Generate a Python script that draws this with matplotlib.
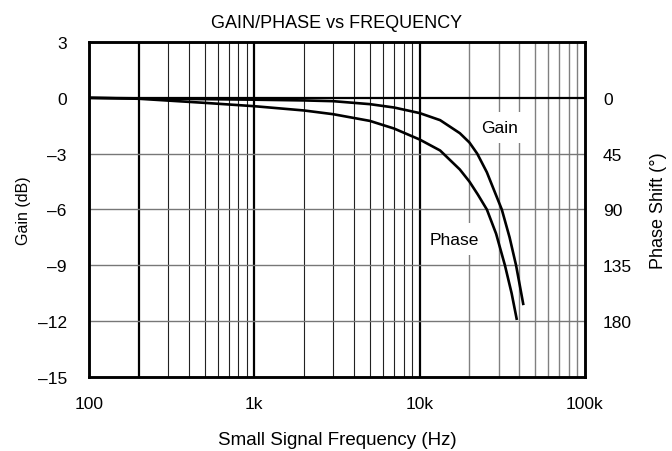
import numpy as np
import matplotlib
matplotlib.use("Agg")
import matplotlib.pyplot as plt

plt.rcParams['font.family'] = ['Liberation Sans', 'DejaVu Sans']
plt.rcParams['font.size'] = 12.5

# values
gain_freq = [100, 200, 500, 1e3, 2e3, 3e3, 5e3, 7e3, 10e3, 13.3e3, 17.5e3, 20e3,
             22.3e3, 25.5e3, 28e3, 31.4e3, 35e3, 38.3e3, 40e3, 42.3e3]
gain_db = [0.0, -0.03, -0.07, -0.1, -0.14, -0.18, -0.34, -0.52, -0.82, -1.2, -1.9, -2.4,
           -3.0, -4.0, -4.9, -6.0, -7.5, -9.0, -9.9, -11.07]

phase_freq = [100, 200, 500, 1e3, 2e3, 3e3, 5e3, 7e3, 10e3, 13.3e3, 17.5e3, 20e3,
              22.5e3, 25.5e3, 29e3, 32.8e3, 36e3, 38.6e3]
phase_deg = [0, 0.75, 4.05, 6.75, 10.2, 13.2, 18.6, 24.75, 33.6, 42.45, 57.75, 67.5,
             78, 90, 109.5, 135, 157.5, 178]

gain_ticks = [3, 0, -3, -6, -9, -12, -15]
phase_ticks = [0, 45, 90, 135, 180]
freq_ticks = [100, 1e3, 10e3, 100e3]
freq_labels = ['100', '1k', '10k', '100k']

fig = plt.figure(figsize=(6.72, 4.52), dpi=100)
ax = fig.add_axes([0.1324, 0.1637, 0.7381, 0.7412])
ax.set_xscale('log')
ax.set_xlim(100, 100e3)
ax.set_ylim(-15, 3)

# grid: heavy lines at 200, 1k, 10k
for dec in [100, 1e3, 10e3]:
    for m in range(2, 10):
        f = dec * m
        if f == 200:
            ax.axvline(f, color='black', lw=1.6, zorder=1)
        elif dec < 10e3:
            ax.axvline(f, color='#222222', lw=0.8, zorder=1)
        else:
            ax.axvline(f, color='#808080', lw=1.0, zorder=1)
for f in [1e3, 10e3]:
    ax.axvline(f, color='black', lw=1.6, zorder=1)
for g in [-3, -6, -9, -12]:
    ax.axhline(g, color='#777777', lw=1.0, zorder=1)
ax.axhline(0, color='black', lw=1.6, zorder=1)

ax.plot(gain_freq, gain_db, color='black', lw=1.9, zorder=3)

ax2 = ax.twinx()
ax2.set_ylim(225, -45)
ax2.plot(phase_freq, phase_deg, color='black', lw=1.9, zorder=3)
ax2.set_xlim(100, 100e3)

ax.set_xticks(freq_ticks)
ax.set_xticklabels(freq_labels)
ax.xaxis.set_minor_locator(matplotlib.ticker.NullLocator())
ax.set_yticks(gain_ticks)
ax.set_yticklabels([str(t).replace('-', '\u2013') for t in gain_ticks])
ax.tick_params(axis='x', length=0, pad=14)
ax.tick_params(axis='y', length=0, pad=16)
ax2.set_yticks(phase_ticks)
ax2.tick_params(axis='y', length=0, pad=13)

for a in (ax, ax2):
    for s in a.spines.values():
        s.set_linewidth(1.8)

ax.set_xlabel('Small Signal Frequency (Hz)', fontsize=13.5, labelpad=14)
ax.set_ylabel('Gain (dB)', fontsize=11.5, labelpad=5)
ax2.set_ylabel('Phase Shift (\u00b0)', fontsize=13, labelpad=13)
ax.set_title('GAIN/PHASE vs FREQUENCY', fontsize=13, pad=11)

ax.text(30.5e3, -1.6, 'Gain', ha='center', va='center', zorder=2,
        bbox=dict(facecolor='white', edgecolor='none', pad=6))
ax.text(16.3e3, -7.6, 'Phase', ha='center', va='center', zorder=2,
        bbox=dict(facecolor='white', edgecolor='none', pad=6))

fig.savefig('out.png', dpi=100)
